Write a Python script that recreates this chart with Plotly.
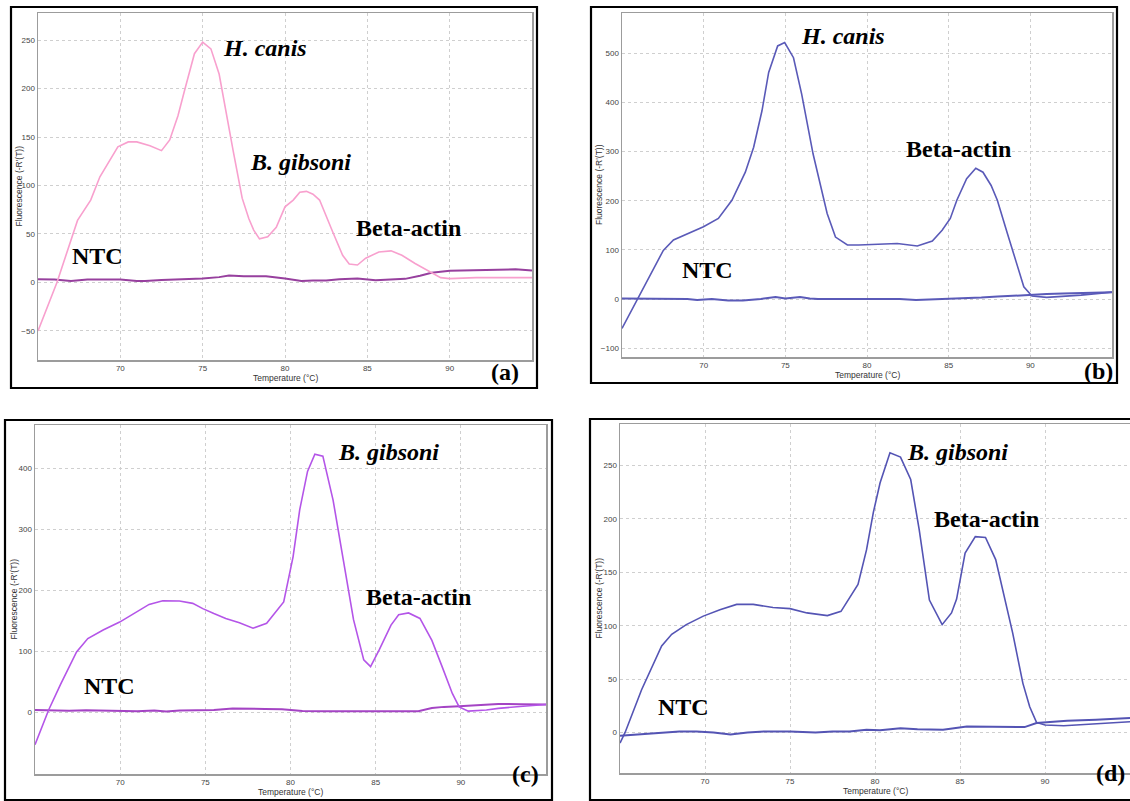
import plotly.graph_objects as go

W, H = 1130, 801

# ---------------- data ----------------
# Panel (a)
a_main_T = [65, 66.15, 67.4, 68.2, 68.76, 69.36, 69.85, 70.48, 71.0, 71.8, 72.5, 73.0, 73.5, 73.9, 74.5, 75.0,
            75.5, 76.0, 76.45, 76.85, 77.4, 77.8, 78.1, 78.45, 78.95, 79.47, 80.0, 80.5, 80.9, 81.3, 81.7,
            82.1, 82.9, 83.5, 83.9, 84.4, 84.9, 85.7, 86.44, 87.1, 87.9, 88.86, 89.45, 90.0, 91.6, 93.0, 95.0]
a_main_V = [-50, 0, 64, 85, 109, 126, 140, 145, 145, 141, 136, 147, 172, 198, 236, 248,
            241, 215, 171, 136, 87, 66, 54, 45, 47, 57, 78, 85, 93, 94, 91,
            85, 52, 28, 19, 18, 25, 31.5, 32.6, 28, 19.6, 11, 5, 4, 5, 5, 5]
a_ntc_T = [65, 66, 67, 68, 69, 70, 71, 71.5, 72.5, 73.5, 75, 76, 76.6, 77.5, 78.85, 80, 81, 81.7, 82.5,
           83.3, 84.4, 85.5, 86.5, 87.3, 88.2, 88.9, 90, 91, 92.6, 94, 95]
a_ntc_V = [3.4, 3, 1.5, 3, 3, 3, 1.5, 1.5, 2.5, 3, 4, 5.5, 7.2, 6.5, 6.5, 4, 1.5, 2, 2,
           3.4, 4, 2.4, 3, 3.7, 7, 10, 12, 12.5, 13.4, 13.5, 12.4]

# Panel (b)
b_main_T = [65, 65.94, 66.5, 67.53, 68.15, 69.2, 69.99, 70.9, 71.73, 72.55, 73.06, 73.57, 73.98, 74.53,
            74.96, 75.5, 76.0, 76.7, 77.35, 77.56, 78.07, 78.8, 79.5, 80.4, 81.85, 83.08, 84.0, 84.6, 85.1,
            85.5, 86.1, 86.66, 87.1, 87.6, 87.98, 88.6, 89.2, 89.6, 90.1, 91.0, 93.1, 95]
b_main_V = [-60, 0, 35, 99, 120, 136, 147, 164, 201, 258, 309, 383, 461, 515,
            522, 491, 417, 295, 201, 174, 126, 110, 110, 111, 113, 108, 118, 140, 164,
            201, 245, 266, 258, 231, 201, 133, 66, 25, 6, 3.4, 8, 14]
b_ntc_T = [65, 66, 67, 68, 69, 69.6, 70.5, 71.5, 72.4, 73.5, 74.4, 75, 75.9, 76.5, 77, 78, 80, 82, 83,
           84, 85, 86, 87, 88, 89, 90.1, 91, 92, 93, 94, 95]
b_ntc_V = [1, 1, 0.5, 1, 0, -2, 0, -3, -3, 0, 4, 1, 4, 1, 0, 0, 0, 0, -2,
           -1, 0, 1, 3, 5, 7, 9.5, 10, 11, 12, 13, 14]

# Panel (c)
c_main_T = [65, 65.8, 66.5, 67.44, 68.1, 69.0, 69.97, 70.95, 71.7, 72.5, 73.48, 74.26, 74.85, 75.5, 76.2,
            77.0, 77.8, 78.6, 79.2, 79.6, 80.15, 80.54, 81.0, 81.43, 81.9, 82.5, 83.1, 83.7, 84.3, 84.7,
            85.2, 85.9, 86.35, 86.93, 87.6, 88.3, 88.9, 89.5, 89.9, 90.44, 91.5, 92.2, 93.65, 94.87, 95]
c_main_V = [-53, 4, 46, 99, 121, 135, 148, 165, 177, 183, 182.5, 178.7, 170, 162, 154,
            147, 138, 146, 168, 181, 255, 332, 395, 423, 420, 348, 250, 152, 86, 75,
            102, 143, 160, 163, 154, 118, 75, 31, 9, 2, 4, 6.5, 10, 13, 13]
c_ntc_T = [65, 66, 67, 68, 69, 70, 71, 72, 72.7, 73.5, 74.5, 75.5, 76.6, 77.5, 78.5, 79.5, 80.7, 82, 83,
           84, 85, 86, 87.5, 88.3, 89, 89.9, 91, 92.2, 93.5, 95]
c_ntc_V = [3.8, 3, 2.5, 3.5, 3, 2, 2, 3, 1.5, 3, 3, 4, 6.5, 5.5, 5.5, 5, 2.4, 2, 2,
           3, 3, 2.5, 2, 7, 9, 10, 11.5, 13.6, 13.5, 13]

# Panel (d)
d_main_T = [65, 65.3, 66.27, 67.45, 68.04, 68.9, 69.9, 70.88, 71.86, 72.84, 74.0, 75.0, 76.0, 77.2, 78.0,
            78.3, 79.0, 79.5, 79.9, 80.3, 80.88, 81.5, 82.1, 82.6, 83.2, 83.95, 84.5, 84.8, 85.3, 85.9,
            86.5, 87.1, 87.65, 88.1, 88.7, 89.1, 89.5, 90.0, 91.1, 93, 95]
d_main_V = [-10, 0, 40, 81, 92, 101, 109, 115, 120, 120, 117, 116, 112, 109.5, 113.5,
            121, 138.6, 171, 206, 234, 262, 258, 237, 190, 124, 101, 112, 125, 168, 183.5,
            182.7, 162, 124.5, 93, 46, 24, 9.4, 7, 6.3, 8, 10]
d_ntc_T = [65, 66, 67, 68, 68.5, 69.5, 70.5, 71.5, 72.5, 73.5, 75, 76.5, 77.5, 78.5, 79.5, 80.3, 81.5,
           82.5, 84, 85.4, 87, 88.3, 88.8, 89.5, 91.3, 93, 95]
d_ntc_V = [-3, -2, -1, 0.5, 1, 1, 0, -2, 0, 1, 1, 0, 1, 1, 2.5, 2, 4,
           3, 2.5, 5.6, 5.6, 5.6, 5, 8.8, 11, 12, 13.5]

x_ticks = [70, 75, 80, 85, 90]
a_yticks = [-50, 0, 50, 100, 150, 200, 250]
b_yticks = [-100, 0, 100, 200, 300, 400, 500]
c_yticks = [0, 100, 200, 300, 400]
d_yticks = [0, 50, 100, 150, 200, 250]

# ---------------- layout helpers ----------------
def px(x):
    return x / W

def py(y):
    return 1 - y / H

panels = [
    dict(n="", area=(38, 13, 532, 360), yr=[-80, 278], yt=a_yticks, frame=(11, 7, 537, 388),
         mc="#f8a0ce", nc="#97409e", mT=a_main_T, mV=a_main_V, nT=a_ntc_T, nV=a_ntc_V, ytx=18),
    dict(n="2", area=(622, 13, 1112, 357), yr=[-118, 582], yt=b_yticks, frame=(591, 7, 1117, 383),
         mc="#5a5ab8", nc="#5a5ab8", mT=b_main_T, mV=b_main_V, nT=b_ntc_T, nV=b_ntc_V, ytx=599),
    dict(n="3", area=(35, 425, 546, 774), yr=[-101, 471], yt=c_yticks, frame=(5, 420, 552, 800),
         mc="#b455e8", nc="#a444c4", mT=c_main_T, mV=c_main_V, nT=c_ntc_T, nV=c_ntc_V, ytx=13),
    dict(n="4", area=(620, 424, 1130, 773), yr=[-38, 289], yt=d_yticks, frame=(590, 419, 1140, 800),
         mc="#5454b4", nc="#5454b4", mT=d_main_T, mV=d_main_V, nT=d_ntc_T, nV=d_ntc_V, ytx=598),
]

fig = go.Figure()
layout = dict(
    width=W, height=H, margin=dict(l=0, r=0, t=0, b=0), autosize=False,
    paper_bgcolor="white", plot_bgcolor="white", showlegend=False,
    template="none",
)
shapes = []
annotations = []

tickfont = dict(family="Liberation Sans", size=8, color="#444444")
titlefont = dict(family="Liberation Sans", size=8.5, color="#333333")

for p in panels:
    l, t, r, b = p["area"]
    xa = "xaxis" + p["n"]
    ya = "yaxis" + p["n"]
    xr = "x" + p["n"]
    yr = "y" + p["n"]
    layout[xa] = dict(
        domain=[px(l), px(r)], range=[65, 95], anchor=yr, tickvals=x_ticks,
        showgrid=True, gridcolor="#cfcfcf", griddash="3px,3px", gridwidth=1,
        showline=True, mirror=True, linecolor="#9c9c9c", linewidth=1.5,
        zeroline=False, ticks="", tickfont=tickfont, automargin=False, fixedrange=True,
    )
    layout[ya] = dict(
        domain=[py(b), py(t)], range=p["yr"], anchor=xr, tickvals=p["yt"],
        showgrid=True, gridcolor="#cfcfcf", griddash="3px,3px", gridwidth=1,
        showline=True, mirror=True, linecolor="#9c9c9c", linewidth=1.5,
        zeroline=False, ticks="", tickfont=tickfont, automargin=False, fixedrange=True,
    )
    fig.add_trace(go.Scatter(x=p["nT"], y=p["nV"], mode="lines", xaxis=xr, yaxis=yr,
                             line=dict(color=p["nc"], width=2), hoverinfo="skip"))
    fig.add_trace(go.Scatter(x=p["mT"], y=p["mV"], mode="lines", xaxis=xr, yaxis=yr,
                             line=dict(color=p["mc"], width=1.6), hoverinfo="skip"))
    fl, ft, fr, fb = p["frame"]
    shapes.append(dict(type="rect", xref="paper", yref="paper",
                       x0=px(fl), x1=px(fr), y0=py(fb), y1=py(ft),
                       line=dict(color="black", width=2.2), layer="above"))
    annotations.append(dict(text="Temperature (°C)", xref="paper", yref="paper",
                            x=px((l + r) / 2), y=py(b + 18), showarrow=False,
                            font=titlefont, xanchor="center", yanchor="middle"))
    annotations.append(dict(text="Fluorescence (-R'(T))", xref="paper", yref="paper",
                            x=px(p["ytx"]), y=py((t + b) / 2), showarrow=False, textangle=-90,
                            font=titlefont, xanchor="center", yanchor="middle"))

labels = [
    ("H. canis", 265, 48, True),
    ("B. gibsoni", 300, 162, True),
    ("Beta-actin", 409, 228, False),
    ("NTC", 97, 256, False),
    ("(a)", 505, 372, False),
    ("H. canis", 843, 36, True),
    ("Beta-actin", 958, 149, False),
    ("NTC", 707, 270, False),
    ("(b)", 1098, 371, False),
    ("B. gibsoni", 388, 452, True),
    ("Beta-actin", 418, 597, False),
    ("NTC", 109, 686, False),
    ("(c)", 525, 774, False),
    ("B. gibsoni", 957, 452, True),
    ("Beta-actin", 986, 519, False),
    ("NTC", 683, 707, False),
    ("(d)", 1110, 773, False),
]
for txt, x, y, ital in labels:
    annotations.append(dict(text=txt, xref="paper", yref="paper", x=px(x), y=py(y),
                            showarrow=False, xanchor="center", yanchor="middle",
                            font=dict(family="Liberation Serif", size=24, color="black",
                                      weight="bold", style="italic" if ital else "normal")))

layout["shapes"] = shapes
layout["annotations"] = annotations
fig.update_layout(**layout)

fig.write_html("out.html", config={"displayModeBar": False, "staticPlot": True},
               post_script="document.body.style.margin='0';document.body.style.overflow='hidden';")
